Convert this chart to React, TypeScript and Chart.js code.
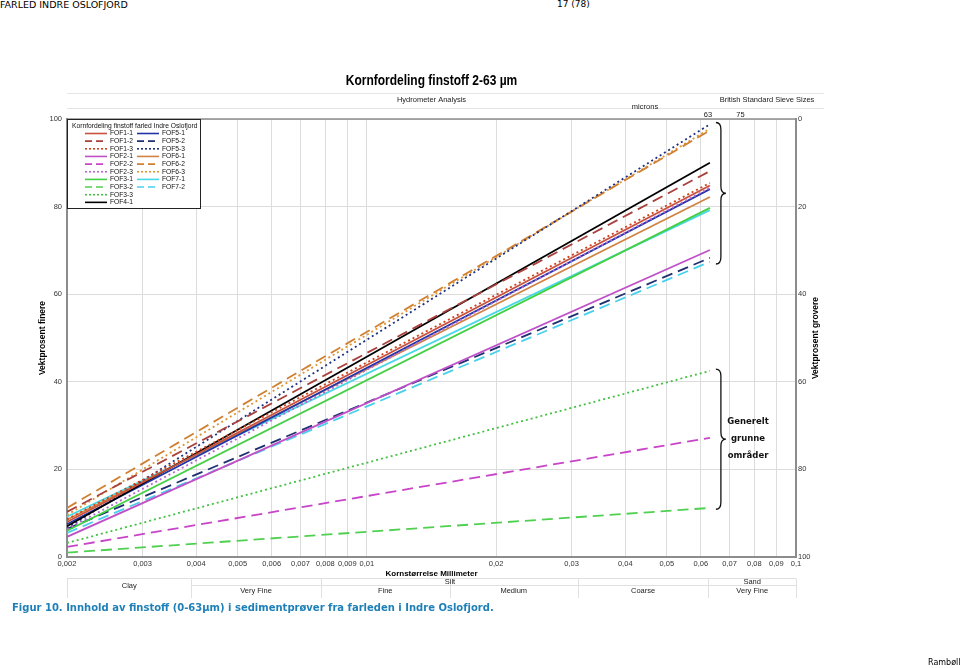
import { useEffect, useRef } from 'react';
import { Chart, registerables } from 'chart.js';

Chart.register(...registerables);

// ---- Data ----
const SERIES_NAMES = [
  'FOF1-1', 'FOF1-2', 'FOF1-3', 'FOF2-1', 'FOF2-2', 'FOF2-3', 'FOF3-1', 'FOF3-2', 'FOF3-3', 'FOF4-1',
  'FOF5-1', 'FOF5-2', 'FOF5-3', 'FOF6-1', 'FOF6-2', 'FOF6-3', 'FOF7-1', 'FOF7-2',
];
// percent finer at 0.002 mm (start) and at 0.063 mm (end)
const START_VALUES = [8.0, 10.3, 8.6, 4.6, 2.3, 6.4, 6.0, 1.0, 3.2, 7.0, 7.5, 6.4, 6.6, 8.5, 11.2, 9.6, 9.2, 5.5];
const END_VALUES = [84.8, 88.1, 85.4, 70.1, 27.2, 84.3, 79.7, 11.2, 42.5, 90.0, 84.0, 68.3, 98.8, 82.2, 97.4, 97.8, 79.2, 67.4];
const X_POINTS = [0.002, 0.063];
const X_TICKS = [0.002, 0.003, 0.004, 0.005, 0.006, 0.007, 0.008, 0.009, 0.01, 0.02, 0.03, 0.04, 0.05, 0.06, 0.07, 0.08, 0.09, 0.1];
const Y_TICKS = [0, 20, 40, 60, 80, 100];
const SIEVE_LABELS = ['63', '75'];
const SIEVE_SIZES = [0.063, 0.075];
const CLASS_BOUNDS = [0.002, 0.0039, 0.0078, 0.0156, 0.031, 0.0625, 0.1];
const CLASS_SUB_LABELS = ['', 'Very Fine', 'Fine', 'Medium', 'Coarse', 'Very Fine'];
const CLASS_MAIN = [
  { label: 'Clay', from: 0.002, to: 0.0039 },
  { label: 'Silt', from: 0.0039, to: 0.0625 },
  { label: 'Sand', from: 0.0625, to: 0.1 },
];

const COLORS = [
  '#c8503c', '#a8403c', '#d0401c', '#c050c8', '#c844c8', '#b468d0', '#44d044', '#50d050', '#44c044', '#000000',
  '#2434a8', '#203070', '#203080', '#d08444', '#d08030', '#e09434', '#48d8e4', '#48d0ec',
];
const DASHES: number[][] = [
  [], [11, 6], [2, 3], [], [11, 6], [2, 3], [], [11, 6], [2, 3], [],
  [], [11, 6], [2, 3], [], [11, 6], [2, 3], [], [11, 6],
];

const NARROW = "'Liberation Sans Narrow', 'Liberation Sans', Arial, sans-serif";
const SANS = "'Liberation Sans', Arial, sans-serif";

function drawBrace(ctx: CanvasRenderingContext2D, x: number, y1: number, y2: number, w: number) {
  const ym = (y1 + y2) / 2;
  const r = 7;
  const xm = x + w / 2;
  ctx.beginPath();
  ctx.moveTo(x, y1);
  ctx.quadraticCurveTo(xm, y1, xm, y1 + r);
  ctx.lineTo(xm, ym - r);
  ctx.quadraticCurveTo(xm, ym, x + w, ym);
  ctx.quadraticCurveTo(xm, ym, xm, ym + r);
  ctx.lineTo(xm, y2 - r);
  ctx.quadraticCurveTo(xm, y2, x, y2);
  ctx.stroke();
}

const overlayPlugin = {
  id: 'overlay',
  afterDraw(chart: any) {
    const ctx: CanvasRenderingContext2D = chart.ctx;
    const { left, right, top, bottom } = chart.chartArea;
    const xs = chart.scales.x;
    const ys = chart.scales.y;
    const cx = (left + right) / 2;
    ctx.save();

    // frame top
    ctx.strokeStyle = '#8c8c8c';
    ctx.lineWidth = 1.5;
    ctx.beginPath();
    ctx.moveTo(left, top);
    ctx.lineTo(right, top);
    ctx.stroke();

    // Title (horizontally condensed)
    ctx.fillStyle = '#000';
    ctx.textAlign = 'center';
    ctx.textBaseline = 'middle';
    ctx.save();
    ctx.translate(cx, 81);
    ctx.scale(0.8, 1);
    ctx.font = `bold 15px ${SANS}`;
    ctx.fillText('Kornfordeling finstoff 2-63 µm', 0, 0);
    ctx.restore();

    // Header strip
    ctx.strokeStyle = '#e4e4e4';
    ctx.lineWidth = 1;
    ctx.beginPath();
    ctx.moveTo(left, 93.5); ctx.lineTo(824, 93.5);
    ctx.moveTo(left, 108.5); ctx.lineTo(824, 108.5);
    ctx.stroke();
    ctx.fillStyle = '#222';
    ctx.font = `7.5px ${NARROW}`;
    ctx.fillText('Hydrometer Analysis', cx, 100);
    ctx.fillText('British Standard Sieve Sizes', 767, 100);
    ctx.fillText('microns', 645, 106.5);
    SIEVE_SIZES.forEach((v, i) => {
      ctx.fillText(SIEVE_LABELS[i], xs.getPixelForValue(v) - 2, 114.5);
    });

    // x axis title
    ctx.fillStyle = '#000';
    ctx.font = `bold 8px ${SANS}`;
    ctx.fillText('Kornstørrelse Millimeter', cx, 574);

    // classification table
    const tTop = 578.5, tMid = 585.5, tBot = 598;
    ctx.strokeStyle = '#e0e0e0';
    ctx.lineWidth = 1;
    ctx.beginPath();
    ctx.moveTo(left, tTop); ctx.lineTo(right, tTop);
    ctx.moveTo(xs.getPixelForValue(CLASS_BOUNDS[1]), tMid); ctx.lineTo(right, tMid);
    CLASS_BOUNDS.forEach((b) => {
      const px = Math.round(xs.getPixelForValue(b)) + 0.5;
      ctx.moveTo(px, tTop); ctx.lineTo(px, tBot);
    });
    ctx.stroke();
    ctx.fillStyle = '#222';
    ctx.font = `7.5px ${NARROW}`;
    CLASS_MAIN.forEach((c) => {
      const x0 = xs.getPixelForValue(c.from);
      const x1 = xs.getPixelForValue(c.to);
      const y = c.label === 'Clay' ? 586 : 581.5;
      ctx.fillText(c.label, (x0 + x1) / 2, y);
    });
    for (let i = 1; i < CLASS_BOUNDS.length - 1; i++) {
      const x0 = xs.getPixelForValue(CLASS_BOUNDS[i]);
      const x1 = xs.getPixelForValue(CLASS_BOUNDS[i + 1]);
      ctx.fillText(CLASS_SUB_LABELS[i], (x0 + x1) / 2, 590.5);
    }

    // axis titles
    ctx.fillStyle = '#000';
    ctx.font = `bold 8.5px ${SANS}`;
    ctx.save();
    ctx.translate(43, (top + bottom) / 2);
    ctx.rotate(-Math.PI / 2);
    ctx.fillText('Vektprosent finere', 0, 0);
    ctx.restore();
    ctx.save();
    ctx.translate(816, (top + bottom) / 2);
    ctx.rotate(-Math.PI / 2);
    ctx.fillText('Vektprosent grovere', 0, 0);
    ctx.restore();

    // braces
    const bx = xs.getPixelForValue(X_POINTS[1]) + 6;
    ctx.strokeStyle = '#111';
    ctx.lineWidth = 1.3;
    drawBrace(ctx, bx, ys.getPixelForValue(99.2), ys.getPixelForValue(66.9), 10);
    const b2a = ys.getPixelForValue(42.9);
    const b2b = ys.getPixelForValue(10.9);
    drawBrace(ctx, bx, b2a, b2b, 10);
    const bm = (b2a + b2b) / 2;
    ctx.fillStyle = '#111';
    ctx.font = `bold 8.5px 'DejaVu Sans', Verdana, sans-serif`;
    ctx.fillText('Generelt', 748, bm - 17);
    ctx.fillText('grunne', 748, bm);
    ctx.fillText('områder', 748, bm + 17);

    // legend box
    const lx = 67.5, ly = 119.5, lw = 133, lh = 89;
    ctx.fillStyle = '#fff';
    ctx.fillRect(lx, ly, lw, lh);
    ctx.strokeStyle = '#222';
    ctx.lineWidth = 1;
    ctx.strokeRect(lx, ly, lw, lh);
    ctx.fillStyle = '#111';
    ctx.font = `6.7px ${SANS}`;
    ctx.textAlign = 'left';
    ctx.fillText('Kornfordeling finstoff farled Indre Oslofjord', 72, 126);
    SERIES_NAMES.forEach((name, i) => {
      const col = i < 10 ? 0 : 1;
      const row = i < 10 ? i : i - 10;
      const y = 133.5 + row * 7.65;
      const sx = col === 0 ? 85 : 137;
      ctx.strokeStyle = COLORS[i];
      ctx.lineWidth = 1.6;
      ctx.setLineDash(DASHES[i].length ? (DASHES[i][0] > 5 ? [7, 4] : [2, 2]) : []);
      ctx.beginPath();
      ctx.moveTo(sx, y);
      ctx.lineTo(sx + 22, y);
      ctx.stroke();
      ctx.setLineDash([]);
      ctx.fillStyle = '#111';
      ctx.fillText(name, sx + 25, y);
    });

    ctx.restore();
  },
};

export default function App() {
  const ref = useRef<HTMLCanvasElement | null>(null);
  useEffect(() => {
    if (!ref.current) return;
    const datasets = SERIES_NAMES.map((name, i) => ({
      label: name,
      data: [
        { x: X_POINTS[0], y: START_VALUES[i] },
        { x: X_POINTS[1], y: END_VALUES[i] },
      ],
      borderColor: COLORS[i],
      backgroundColor: COLORS[i],
      borderWidth: 1.8,
      borderDash: DASHES[i],
      pointRadius: 0,
      fill: false,
      tension: 0,
    }));
    const chart = new Chart(ref.current, {
      type: 'line',
      data: { datasets },
      plugins: [overlayPlugin],
      options: {
        responsive: false,
        animation: false,
        devicePixelRatio: 1,
        layout: { padding: { left: 0, right: 134, top: 119, bottom: 91 } },
        plugins: { legend: { display: false }, tooltip: { enabled: false }, title: { display: false } },
        scales: {
          x: {
            type: 'logarithmic',
            min: X_TICKS[0],
            max: X_TICKS[X_TICKS.length - 1],
            afterBuildTicks: (axis: any) => {
              axis.ticks = X_TICKS.map((v) => ({ value: v }));
            },
            afterFit: (axis: any) => { axis.height = 20; },
            ticks: {
              autoSkip: false,
              maxRotation: 0,
              padding: 2,
              color: '#333',
              font: { family: NARROW, size: 7.5 },
              callback: (v: any) => String(v).replace('.', ','),
            },
            grid: { color: '#dcdcdc', lineWidth: 1, drawTicks: false },
            border: { color: '#8c8c8c', width: 2 },
          },
          y: {
            type: 'linear',
            position: 'left',
            min: 0,
            max: 100,
            afterBuildTicks: (axis: any) => {
              axis.ticks = Y_TICKS.map((v) => ({ value: v }));
            },
            afterFit: (axis: any) => { axis.width = 67; },
            ticks: { color: '#333', padding: 5, font: { family: NARROW, size: 7.5 } },
            grid: { color: '#dcdcdc', lineWidth: 1, drawTicks: false },
            border: { color: '#8c8c8c', width: 2 },
          },
          y2: {
            type: 'linear',
            position: 'right',
            reverse: true,
            min: 0,
            max: 100,
            afterBuildTicks: (axis: any) => {
              axis.ticks = Y_TICKS.map((v) => ({ value: v }));
            },
            afterFit: (axis: any) => { axis.width = 30; },
            ticks: { color: '#333', padding: 2, font: { family: NARROW, size: 7.5 } },
            grid: { display: false, drawTicks: false },
            border: { color: '#8c8c8c', width: 2 },
          },
        },
      },
    } as any);
    return () => chart.destroy();
  }, []);

  return (
    <div style={{ position: 'absolute', left: 0, top: 0, width: 960, height: 668, background: '#fff', overflow: 'hidden' }}>
      <div style={{ position: 'absolute', left: 0, top: -1, font: "9.5px 'DejaVu Sans', Verdana, sans-serif", color: '#000', whiteSpace: 'nowrap' }}>
        FARLED INDRE OSLOFJORD
      </div>
      <div style={{ position: 'absolute', left: 557, top: -1, font: "9px 'DejaVu Sans', Verdana, sans-serif", color: '#000', whiteSpace: 'nowrap' }}>
        17 (78)
      </div>
      <canvas ref={ref} width={960} height={668} style={{ position: 'absolute', left: 0, top: 0, display: 'block' }} />
      <div style={{ position: 'absolute', left: 12, top: 602, font: "bold 10px 'DejaVu Sans', Verdana, sans-serif", color: '#1f80b8', whiteSpace: 'nowrap' }}>
        Figur 10. Innhold av finstoff (0-63µm) i sedimentprøver fra farleden i Indre Oslofjord.
      </div>
      <div style={{ position: 'absolute', left: 928, top: 658, font: "8px 'DejaVu Sans', Verdana, sans-serif", color: '#000', whiteSpace: 'nowrap' }}>
        Rambøll
      </div>
    </div>
  );
}
